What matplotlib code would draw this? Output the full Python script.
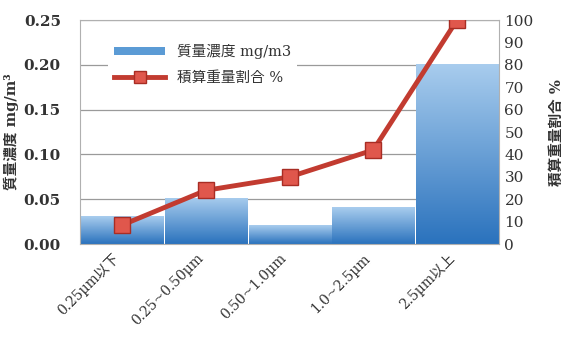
import numpy as np
import matplotlib.pyplot as plt
import matplotlib.transforms as mtransforms
from matplotlib.colors import LinearSegmentedColormap
from matplotlib.lines import Line2D
from matplotlib.patches import Patch

plt.rcParams['font.family'] = ['DejaVu Serif', 'Noto Sans CJK JP']

# data
categories = ['0.25µm以下', '0.25~0.50µm', '0.50~1.0µm', '1.0~2.5µm', '2.5µm以上']
mass_conc = [0.031, 0.052, 0.021, 0.041, 0.201]      # mg/m3
cum_ratio = [8.5, 24, 30, 42, 100]                   # %

fig = plt.figure(figsize=(5.65, 3.4), dpi=100)
ax = fig.add_axes([0.142, 0.282, 0.741, 0.659])
x = np.arange(len(categories))

bars = ax.bar(x, mass_conc, width=0.98, color='#5b9bd5', zorder=2)

# vertical gradient for the bars
cmap = LinearSegmentedColormap.from_list('blu', ['#2a72bd', '#a9cdee'])
grad = np.linspace(0, 1, 256).reshape(-1, 1)
for b in bars:
    bx, by = b.get_x(), b.get_y()
    w, h = b.get_width(), b.get_height()
    im = ax.imshow(grad, cmap=cmap, origin='lower', aspect='auto',
                   extent=[bx, bx + w, by, by + h], zorder=2.1)
    im.set_clip_path(b)
ax.set_xlim(-0.5, len(categories) - 0.5)
ax.set_ylim(0, 0.25)

ax.set_yticks(np.arange(0, 0.26, 0.05))
ax.set_yticklabels([f'{v:.2f}' for v in np.arange(0, 0.26, 0.05)])
ax.yaxis.grid(True, color='#9a9a9a', linewidth=0.9, zorder=0)
ax.set_axisbelow(True)
for s in ax.spines.values():
    s.set_color('#b0b0b0')
ax.tick_params(axis='y', length=0, labelsize=11, colors='#333333', pad=14)
ax.tick_params(axis='x', length=0, labelsize=10, colors='#333333', pad=5)
ax.set_xticks(x)
ax.set_xticklabels(categories, rotation=45, ha='right', rotation_mode='anchor')
shift = mtransforms.ScaledTranslation(-10 / 100, 0, fig.dpi_scale_trans)
for t in ax.get_xticklabels():
    t.set_transform(t.get_transform() + shift)
for t in ax.get_yticklabels():
    t.set_fontweight('bold')
ax.set_ylabel('質量濃度 mg/m³', fontsize=10.5, fontweight='bold', color='#333333', labelpad=3)

ax2 = ax.twinx()
ax2.plot(x, cum_ratio, color='#c23b30', linewidth=3.5, marker='s', markersize=11,
         markerfacecolor='#e0574c', markeredgecolor='#a82d24', markeredgewidth=1, zorder=5)
ax2.set_ylim(0, 100)
ax2.set_yticks(np.arange(0, 101, 10))
ax2.tick_params(axis='y', length=0, labelsize=11, colors='#333333', pad=4)
ax2.set_ylabel('積算重量割合 %', fontsize=10.5, fontweight='bold', color='#333333',
               rotation=90, labelpad=12)
for s in ax2.spines.values():
    s.set_visible(False)

handles = [Patch(facecolor='#5b9bd5', edgecolor='none'),
           Line2D([0], [0], color='#c23b30', linewidth=3.5, marker='s', markersize=8,
                  markerfacecolor='#e0574c', markeredgecolor='#a82d24')]
leg = ax2.legend(handles, ['質量濃度 mg/m3', '積算重量割合 %'], loc='upper left',
                 bbox_to_anchor=(0.05, 0.95), frameon=True, fontsize=10.5,
                 handlelength=3.5, handleheight=0.5, labelspacing=0.8)
leg.get_frame().set_edgecolor('none')
leg.get_frame().set_facecolor('white')
leg.get_frame().set_alpha(1)
for t in leg.get_texts():
    t.set_color('#333333')

fig.savefig('out.png', dpi=100)
